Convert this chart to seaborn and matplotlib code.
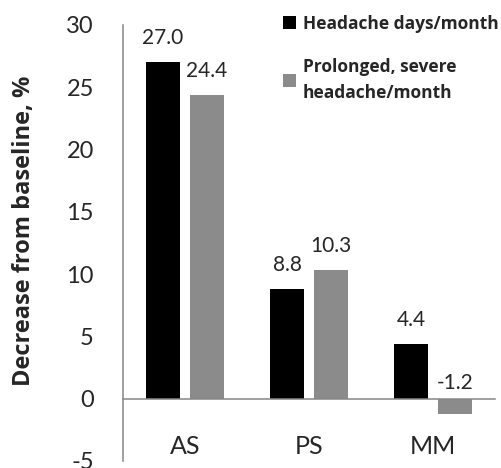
import seaborn as sns
import matplotlib.pyplot as plt
import pandas as pd

groups = ["AS", "PS", "MM"]
headache_days = [27.0, 8.8, 4.4]
prolonged_severe = [24.4, 10.3, -1.2]
series = ["Headache days/month", "Prolonged, severe\nheadache/month"]
colors = ["#000000", "#8b8b8b"]
y_ticks = [-5, 0, 5, 10, 15, 20, 25, 30]

df = pd.DataFrame({
    "group": groups * 2,
    "value": headache_days + prolonged_severe,
    "series": [series[0]] * len(groups) + [series[1]] * len(groups),
})

sns.set_style("white")
plt.rcParams['font.family'] = ['Lato', 'DejaVu Sans']
plt.rcParams['axes.unicode_minus'] = False
axis_grey = "#868686"

fig = plt.figure(figsize=(5.01, 4.68), dpi=100)
ax = fig.add_axes([0.2455, 0.015, 0.7425, 0.9316])
sns.barplot(data=df, x="group", y="value", hue="series", palette=colors,
            width=0.71, gap=0.23, saturation=1, errorbar=None,
            edgecolor="none", ax=ax)

ax.set_xlim(-0.5, 2.5)
ax.set_ylim(-5, 30)
ax.set_yticks(y_ticks)
ax.set_xticks([0.5, 1.5, 2.5], minor=True)

# Decorations
for side in ["top", "right"]:
    ax.spines[side].set_visible(False)
ax.spines["bottom"].set_position(("data", 0))
for side in ["left", "bottom"]:
    ax.spines[side].set_color(axis_grey)
    ax.spines[side].set_linewidth(1.1)

ax.tick_params(axis="y", length=7, width=1.1, color=axis_grey, pad=14, labelsize=17)
ax.tick_params(axis="x", which="major", length=0, pad=26, labelsize=18)
ax.tick_params(axis="x", which="minor", length=6.5, width=1.1, color=axis_grey, direction="out")

ax.set_xlabel("")
ax.set_ylabel("Decrease from baseline, %", fontsize=17, fontweight="bold",
              family=["Open Sans", "DejaVu Sans"])
ax.yaxis.set_label_coords(-0.235, 0.527)

for container in ax.containers:
    for bar in container:
        h = bar.get_height()
        top = bar.get_y() + h if h > 0 else bar.get_y()
        off = 24 if h > 0 else 16
        ax.annotate("%.1f" % (bar.get_y() + h if h > 0 else h),
                    (bar.get_x() + bar.get_width() / 2, top),
                    xytext=(0, off * 0.72), textcoords="offset points",
                    ha="center", va="center", fontsize=15)

handles, labels = ax.get_legend_handles_labels()
ax.get_legend().remove()
leg = fig.legend(handles, labels, loc="upper left", bbox_to_anchor=(0.564, 0.969),
                 frameon=False, borderpad=0, borderaxespad=0, handlelength=0.75,
                 handleheight=0.75, handletextpad=0.4, labelspacing=1.44,
                 prop={"weight": "bold", "size": 12.5, "family": ["Open Sans", "DejaVu Sans"]})
leg.get_texts()[1].set_linespacing(1.6)

fig.savefig("out.png", dpi=100)
